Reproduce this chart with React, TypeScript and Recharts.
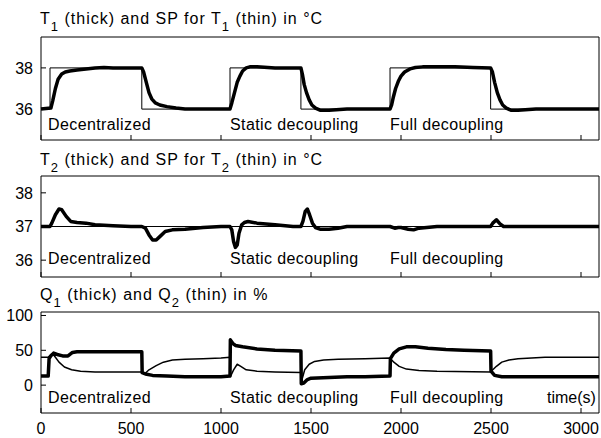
import React from "react";
import { LineChart, Line, XAxis, YAxis } from "recharts";

// time ticks shared by all three panels
const timeTicks = [0, 500, 1000, 1500, 2000, 2500, 3000];

// T1 setpoint (thin)
const sp1Time = [0, 50, 50, 560, 560, 1050, 1050, 1444, 1444, 1939, 1939, 2498, 2498, 3100];
const sp1Vals = [36, 36, 38, 38, 36, 36, 38, 38, 36, 36, 38, 38, 36, 36];

// T1 measured (thick)
const t1Time = [0, 55, 65, 80, 95, 115, 135, 160, 200, 250, 300, 350, 400, 450, 500, 560, 570, 585, 600, 615, 635, 660, 700, 750, 800, 900, 1000, 1050, 1060, 1075, 1090, 1105, 1120, 1140, 1160, 1200, 1300, 1400, 1444, 1452, 1462, 1475, 1490, 1505, 1525, 1550, 1600, 1700, 1800, 1939, 1948, 1958, 1970, 1985, 2000, 2020, 2050, 2080, 2120, 2200, 2300, 2400, 2498, 2508, 2520, 2535, 2550, 2565, 2585, 2610, 2650, 2750, 2900, 3100];
const t1Vals = [36.0, 36.05, 36.4, 37.0, 37.45, 37.7, 37.8, 37.85, 37.9, 37.95, 38.0, 38.02, 38.0, 38.0, 38.0, 38.0, 37.8, 37.3, 36.8, 36.5, 36.3, 36.2, 36.12, 36.05, 36.0, 36.0, 36.0, 36.0, 36.3, 36.8, 37.3, 37.6, 37.85, 38.0, 38.05, 38.05, 38.0, 38.0, 38.0, 37.7, 37.2, 36.8, 36.45, 36.2, 36.05, 35.95, 35.95, 36.0, 36.0, 36.0, 36.2, 36.6, 37.0, 37.35, 37.6, 37.8, 37.95, 38.02, 38.05, 38.05, 38.05, 38.02, 38.0, 37.8, 37.3, 36.8, 36.45, 36.2, 36.05, 35.95, 35.95, 36.0, 36.0, 36.0];

// T2 setpoint (thin)
const sp2Time = [0, 3100];
const sp2Vals = [37, 37];

// T2 measured (thick)
const t2Time = [0, 50, 60, 80, 100, 115, 140, 165, 200, 250, 300, 400, 500, 560, 580, 600, 620, 640, 660, 690, 730, 800, 900, 1000, 1050, 1060, 1070, 1080, 1090, 1100, 1115, 1130, 1150, 1200, 1300, 1400, 1444, 1455, 1468, 1480, 1492, 1508, 1525, 1550, 1600, 1650, 1700, 1800, 1939, 1965, 1985, 2000, 2040, 2070, 2100, 2200, 2300, 2498, 2510, 2530, 2550, 2570, 3100];
const t2Vals = [37.0, 37.0, 37.1, 37.35, 37.52, 37.5, 37.3, 37.15, 37.12, 37.1, 37.05, 37.02, 37.0, 37.0, 36.95, 36.75, 36.6, 36.6, 36.7, 36.85, 36.9, 36.92, 36.97, 37.0, 37.0, 36.9, 36.55, 36.38, 36.45, 36.8, 37.05, 37.12, 37.15, 37.1, 37.05, 37.0, 37.0, 37.15, 37.45, 37.52, 37.35, 37.1, 36.97, 36.92, 36.92, 36.95, 37.0, 37.0, 37.0, 36.95, 36.97, 36.97, 36.92, 36.9, 36.95, 37.0, 37.0, 37.0, 37.1, 37.2, 37.08, 37.0, 37.0];

// Q1 (thick)
const q1Time = [0, 40, 45, 55, 70, 90, 120, 150, 175, 200, 300, 400, 500, 560, 562, 580, 620, 700, 800, 900, 1000, 1050, 1052, 1065, 1080, 1120, 1200, 1300, 1444, 1446, 1460, 1480, 1500, 1600, 1700, 1800, 1939, 1941, 1960, 1990, 2030, 2080, 2150, 2250, 2350, 2498, 2500, 2520, 2560, 2700, 2900, 3100];
const q1Vals = [13, 13, 38, 42, 46, 44, 42, 42, 47, 48, 48, 48, 48, 48, 18, 16, 14, 13, 12, 12, 12, 13, 65, 60, 57, 55, 52, 50, 49, 2, 3, 8, 10, 11, 12, 12, 13, 38, 46, 52, 55, 55, 53, 51, 50, 49, 20, 14, 12, 12, 12, 12];

// Q2 (thin)
const q2Time = [0, 40, 55, 65, 80, 100, 130, 170, 220, 300, 400, 500, 560, 575, 600, 640, 680, 730, 800, 900, 1000, 1050, 1052, 1070, 1090, 1110, 1140, 1200, 1300, 1444, 1450, 1465, 1490, 1520, 1570, 1650, 1800, 1939, 1960, 1990, 2030, 2100, 2200, 2498, 2510, 2530, 2560, 2600, 2650, 2800, 3100];
const q2Vals = [40, 40, 44, 45, 40, 33, 26, 22, 20, 19, 19, 19, 19, 16, 22, 28, 33, 36, 37, 38, 39, 40, 12, 22, 30, 27, 22, 20, 19, 18, 8, 22, 30, 34, 36, 37, 38, 39, 33, 27, 23, 21, 20, 19, 22, 27, 33, 36, 38, 40, 40];

const toPoints = (t: number[], v: number[]) => t.map((x, i) => ({ t: x, v: v[i] }));

const FONT = "'Liberation Sans', Arial, Helvetica, sans-serif";
const tickStyle = { fill: "#000", fontSize: 16, fontFamily: FONT };

type Series = { data: { t: number; v: number }[]; width: number };

function Panel(props: {
  top: number;
  height: number;
  mTop: number;
  mBottom: number;
  domain: [number, number];
  yTicks: number[];
  series: Series[];
  xLabels?: boolean;
}) {
  const { top, height, mTop, mBottom, domain, yTicks, series, xLabels } = props;
  const blank = () => "";
  return (
    <div style={{ position: "absolute", left: 0, top }}>
      <LineChart width={601} height={height} margin={{ top: mTop, right: 1, bottom: mBottom, left: 0 }}>
        <XAxis
          xAxisId="b"
          dataKey="t"
          type="number"
          domain={[0, 3100]}
          ticks={timeTicks}
          interval={0}
          tickSize={-5}
          tickMargin={15}
          height={xLabels ? 25 : 1}
          stroke="#000"
          tick={tickStyle}
          tickFormatter={xLabels ? undefined : blank}
        />
        <XAxis
          xAxisId="top"
          orientation="top"
          dataKey="t"
          type="number"
          domain={[0, 3100]}
          ticks={timeTicks}
          interval={0}
          tickSize={-5}
          height={1}
          stroke="#000"
          tickFormatter={blank}
        />
        <YAxis
          yAxisId="l"
          type="number"
          domain={domain}
          ticks={yTicks}
          interval={0}
          tickSize={-5}
          tickMargin={13}
          width={41}
          stroke="#000"
          tick={tickStyle}
        />
        <YAxis
          yAxisId="r"
          orientation="right"
          type="number"
          domain={domain}
          ticks={yTicks}
          interval={0}
          tickSize={-5}
          width={1}
          stroke="#000"
          tickFormatter={blank}
        />
        {series.map((s, i) => (
          <Line
            key={i}
            xAxisId="b"
            yAxisId="l"
            data={s.data}
            dataKey="v"
            type="linear"
            stroke="#000"
            strokeWidth={s.width}
            strokeLinejoin="round"
            dot={false}
            activeDot={false}
            isAnimationActive={false}
          />
        ))}
      </LineChart>
    </div>
  );
}

const Txt = ({ x, y, sp = 0.4, children }: { x: number; y: number; sp?: number; children: React.ReactNode }) => (
  <div style={{ position: "absolute", left: x, top: y, fontSize: 16, lineHeight: "16px", letterSpacing: sp, whiteSpace: "nowrap", color: "#000" }}>
    {children}
  </div>
);

const Sub = ({ children }: { children: React.ReactNode }) => (
  <span style={{ fontSize: 13, position: "relative", top: 7 }}>{children}</span>
);

export default function App() {
  return (
    <div style={{ position: "absolute", left: 0, top: 0, width: 601, height: 438, background: "#fff", fontFamily: FONT }}>
      <Panel
        top={0}
        height={150}
        mTop={36}
        mBottom={9}
        domain={[34.5, 39.5]}
        yTicks={[36, 38]}
        series={[
          { data: toPoints(sp1Time, sp1Vals), width: 1 },
          { data: toPoints(t1Time, t1Vals), width: 3.5 },
        ]}
      />
      <Panel
        top={140}
        height={150}
        mTop={35}
        mBottom={12}
        domain={[35.5, 38.5]}
        yTicks={[36, 37, 38]}
        series={[
          { data: toPoints(sp2Time, sp2Vals), width: 1 },
          { data: toPoints(t2Time, t2Vals), width: 3.5 },
        ]}
      />
      <Panel
        top={280}
        height={158}
        mTop={31}
        mBottom={0}
        domain={[-40, 105]}
        yTicks={[0, 50, 100]}
        xLabels
        series={[
          { data: toPoints(q2Time, q2Vals), width: 1.5 },
          { data: toPoints(q1Time, q1Vals), width: 3.5 },
        ]}
      />

      <Txt x={40} y={11} sp={1}>T<Sub>1</Sub> (thick) and SP for T<Sub>1</Sub> (thin) in °C</Txt>
      <Txt x={40} y={152} sp={1}>T<Sub>2</Sub> (thick) and SP for T<Sub>2</Sub> (thin) in °C</Txt>
      <Txt x={40} y={287} sp={1}>Q<Sub>1</Sub> (thick) and Q<Sub>2</Sub> (thin) in %</Txt>

      <Txt x={48} y={117}>Decentralized</Txt>
      <Txt x={230} y={117}>Static decoupling</Txt>
      <Txt x={390} y={117}>Full decoupling</Txt>

      <Txt x={48} y={251}>Decentralized</Txt>
      <Txt x={230} y={251}>Static decoupling</Txt>
      <Txt x={390} y={251}>Full decoupling</Txt>

      <Txt x={48} y={390}>Decentralized</Txt>
      <Txt x={230} y={390}>Static decoupling</Txt>
      <Txt x={390} y={390}>Full decoupling</Txt>
      <Txt x={547} y={390} sp={0}>time(s)</Txt>
    </div>
  );
}
